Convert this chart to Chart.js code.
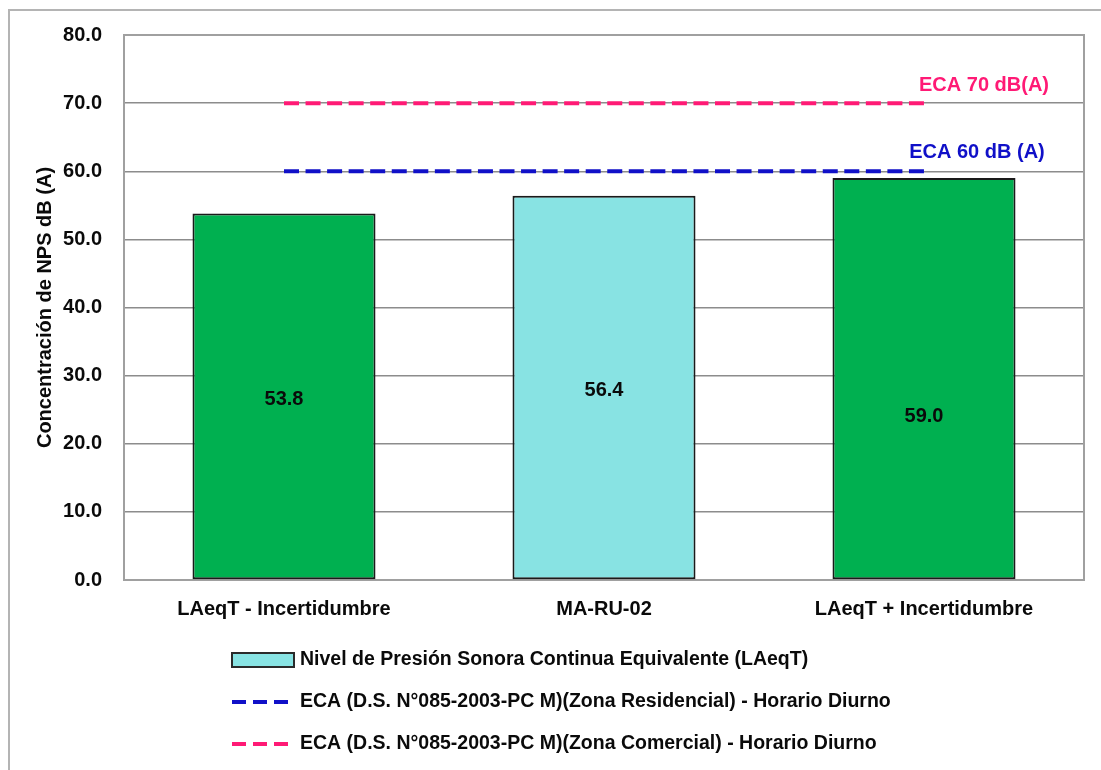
<!DOCTYPE html>
<html>
<head>
<meta charset="utf-8">
<script src="https://cdn.jsdelivr.net/npm/chart.js@4.4.1/dist/chart.umd.min.js"></script>
<style>
  html, body { margin: 0; padding: 0; background: #ffffff; }
  #wrap { width: 1101px; height: 770px; position: relative; }
</style>
</head>
<body>
<div id="wrap"><canvas id="c" width="1101" height="770"></canvas></div>
<script>
const categories = ['LAeqT - Incertidumbre', 'MA-RU-02', 'LAeqT + Incertidumbre'];
const nivelValues = [53.8, 56.4, 59.0];
const ecaResidencial = [60, 60, 60];
const ecaComercial = [70, 70, 70];
const yMin = 0, yMax = 80, yStep = 10;
const seriesNames = [
  'Nivel de Presión Sonora Continua Equivalente (LAeqT)',
  'ECA (D.S. N°085-2003-PC M)(Zona Residencial) - Horario Diurno',
  'ECA (D.S. N°085-2003-PC M)(Zona Comercial) - Horario Diurno'
];
const lineLabels = ['ECA 60 dB (A)', 'ECA 70 dB(A)'];

const FONT = '"Liberation Sans", Arial, sans-serif';
const GREEN = '#00b050';
const CYAN = '#88e3e3';
const BLUE = '#1010c8';
const PINK = '#ff1a75';
const TEXT = '#0a0a0a';

const framePlugin = {
  id: 'framePlugin',
  beforeDraw(chart) {
    const ctx = chart.ctx;
    ctx.save();
    ctx.strokeStyle = '#b4b4b4';
    ctx.lineWidth = 2;
    ctx.beginPath();
    ctx.moveTo(9, 800);
    ctx.lineTo(9, 10);
    ctx.lineTo(1200, 10);
    ctx.stroke();
    ctx.restore();
  },
  beforeDatasetsDraw(chart) {
    const a = chart.chartArea;
    const ctx = chart.ctx;
    ctx.save();
    ctx.strokeStyle = '#a0a0a0';
    ctx.lineWidth = 2;
    ctx.strokeRect(a.left, a.top, a.right - a.left, a.bottom - a.top);
    ctx.restore();
  }
};

const labelPlugin = {
  id: 'labelPlugin',
  afterDatasetsDraw(chart, args, opts) {
    const ctx = chart.ctx;
    ctx.save();
    ctx.font = 'bold 20px ' + FONT;
    ctx.textAlign = 'center';
    ctx.textBaseline = 'middle';
    ctx.fillStyle = TEXT;
    const meta = chart.getDatasetMeta(0);
    meta.data.forEach((bar, i) => {
      const mid = (bar.y + bar.base) / 2 + (opts.offsets[i] || 0);
      ctx.fillText(nivelValues[i].toFixed(1), bar.x, mid);
    });
    [[1, BLUE, lineLabels[0], 53, -19], [2, PINK, lineLabels[1], 60, -18]].forEach(([di, col, txt, dx, dy]) => {
      const m = chart.getDatasetMeta(di);
      const p = m.data[m.data.length - 1];
      ctx.fillStyle = col;
      ctx.fillText(txt, p.x + dx, p.y + dy);
    });
    ctx.restore();
  }
};

const legendPlugin = {
  id: 'legendPlugin',
  afterDraw(chart) {
    const ctx = chart.ctx;
    ctx.save();
    ctx.font = 'bold 19.5px ' + FONT;
    ctx.textAlign = 'left';
    ctx.textBaseline = 'middle';
    const x0 = 232, textX = 300;
    const ys = [660, 702, 744];
    ctx.fillStyle = CYAN;
    ctx.fillRect(x0, ys[0] - 7, 62, 14);
    ctx.strokeStyle = '#2a2a2a';
    ctx.lineWidth = 2;
    ctx.strokeRect(x0, ys[0] - 7, 62, 14);
    [[ys[1], BLUE], [ys[2], PINK]].forEach(([y, col]) => {
      ctx.strokeStyle = col;
      ctx.lineWidth = 4;
      ctx.setLineDash([14, 7]);
      ctx.beginPath();
      ctx.moveTo(x0, y);
      ctx.lineTo(x0 + 62, y);
      ctx.stroke();
    });
    ctx.setLineDash([]);
    ctx.fillStyle = TEXT;
    seriesNames.forEach((t, i) => ctx.fillText(t, textX, ys[i]));
    ctx.restore();
  }
};

new Chart(document.getElementById('c'), {
  type: 'bar',
  data: {
    labels: categories,
    datasets: [
      {
        label: seriesNames[0],
        data: nivelValues,
        backgroundColor: [GREEN, CYAN, GREEN],
        borderColor: '#1a1a1a',
        borderWidth: 2,
        borderSkipped: false,
        categoryPercentage: 1,
        barPercentage: 0.572,
        order: 2
      },
      {
        type: 'line',
        label: seriesNames[1],
        data: ecaResidencial,
        borderColor: BLUE,
        borderWidth: 4,
        borderDash: [15, 6.55],
        pointRadius: 0,
        fill: false,
        order: 1
      },
      {
        type: 'line',
        label: seriesNames[2],
        data: ecaComercial,
        borderColor: PINK,
        borderWidth: 4,
        borderDash: [15, 6.55],
        pointRadius: 0,
        fill: false,
        order: 1
      }
    ]
  },
  options: {
    responsive: false,
    animation: false,
    layout: { padding: { left: 0, right: 17, top: 35, bottom: 0 } },
    plugins: {
      legend: { display: false },
      title: { display: false },
      tooltip: { enabled: false },
      labelPlugin: { offsets: [3, 3, 38] }
    },
    scales: {
      x: {
        grid: { display: false, drawTicks: false },
        border: { display: false },
        ticks: { color: TEXT, font: { family: FONT, size: 20, weight: 'bold' }, padding: 17, maxRotation: 0 },
        afterFit(s) { s.height = 190; }
      },
      y: {
        min: yMin,
        max: yMax,
        grid: { color: '#8c8c8c', lineWidth: 1.5, drawTicks: false },
        border: { display: false },
        ticks: {
          stepSize: yStep,
          color: TEXT,
          font: { family: FONT, size: 20, weight: 'bold' },
          padding: 22,
          callback: v => Number(v).toFixed(1)
        },
        title: {
          display: true,
          text: 'Concentración de NPS dB (A)',
          color: TEXT,
          font: { family: FONT, size: 20, weight: 'bold' },
          padding: { top: 33, bottom: 0 }
        },
        afterFit(s) { s.width = 124; }
      }
    }
  },
  plugins: [framePlugin, labelPlugin, legendPlugin]
});
</script>
</body>
</html>
